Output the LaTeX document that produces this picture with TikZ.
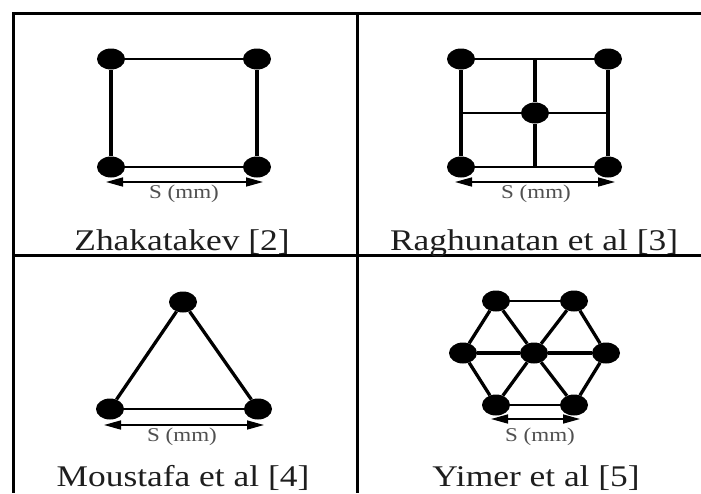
\documentclass[tikz,border=0pt]{standalone}
\usepackage{fontspec}
\setmainfont{Liberation Serif}
\newfontfamily\capfont[FakeStretch=1.18]{Liberation Serif}
\usetikzlibrary{shapes.geometric,arrows.meta}
\definecolor{captext}{HTML}{1E1E1E}
\definecolor{dimtext}{HTML}{505050}
\tikzset{
  dot/.style={ellipse, fill=black, minimum width=28pt, minimum height=21pt, inner sep=0pt},
  thickedge/.style={line width=3.3pt},
  midedge/.style={line width=2.6pt},
  thinedge/.style={line width=1.8pt},
  frame/.style={line width=3pt},
  dimline/.style={line width=1.6pt, {Triangle[length=17pt,width=9pt]}-{Triangle[length=17pt,width=9pt]}},
  dimlabel/.style={anchor=base, inner sep=0pt, text=dimtext, font=\capfont\fontsize{19.5}{19.5}\selectfont},
  caption/.style={anchor=base, inner sep=0pt, text=captext, font=\capfont\fontsize{30}{30}\selectfont}
}
\begin{document}
\begin{tikzpicture}[x=1pt,y=-1pt]
\useasboundingbox (0,0) rectangle (701,493);
\clip (0,0) rectangle (701,493);
\fill[white] (0,0) rectangle (701,493);
% frame
\coordinate (ftl) at (13,13);
\coordinate (ftr) at (701,13);
\coordinate (fbl) at (13,493);
\coordinate (fmt) at (357,13);
\coordinate (fmb) at (357,493);
\coordinate (fml) at (13,255);
\coordinate (fmr) at (701,255);
\draw[frame] (ftr) -- (ftl) -- (fbl);
\draw[frame] (fmt) -- (fmb);
\draw[frame] (fml) -- (fmr);

% panel 1
\node[dot] (a1) at (111,59) {};
\node[dot] (a2) at (257,59) {};
\node[dot] (a3) at (111,167) {};
\node[dot] (a4) at (257,167) {};
\draw[thinedge] (a1) -- (a2);
\draw[thickedge] (a1) -- (a3);
\draw[thickedge] (a2) -- (a4);
\draw[midedge] (a3) -- (a4);
\coordinate (d1l) at (106,182);
\coordinate (d1r) at (263,182);
\draw[dimline] (d1l) -- (d1r);
\node[dimlabel] (s1) at (184,198) {S (mm)};
\node[caption] (c1) at (182,250) {Zhakatakev [2]};

% panel 2
\node[dot] (b1) at (461,59) {};
\node[dot] (b2) at (608,59) {};
\node[dot] (b3) at (461,167) {};
\node[dot] (b4) at (608,167) {};
\node[dot] (b5) at (535,113) {};
\coordinate (b6) at (535,59);
\coordinate (b7) at (535,167);
\coordinate (b8) at (461,113);
\coordinate (b9) at (608,113);
\draw[thinedge] (b1) -- (b2);
\draw[thickedge] (b1) -- (b3);
\draw[thickedge] (b2) -- (b4);
\draw[midedge] (b3) -- (b4);
\draw[thickedge] (b6) -- (b5);
\draw[thickedge] (b5) -- (b7);
\draw[thinedge] (b8) -- (b5);
\draw[thinedge] (b5) -- (b9);
\coordinate (d2l) at (455,182);
\coordinate (d2r) at (615,182);
\draw[dimline] (d2l) -- (d2r);
\node[dimlabel] (s2) at (536,198) {S (mm)};
\node[caption] (c2) at (534,250) {Raghunatan et al [3]};

% panel 3
\node[dot] (t1) at (183,302) {};
\node[dot] (t2) at (110,409) {};
\node[dot] (t3) at (258,409) {};
\draw[thickedge] (t1) -- (t2);
\draw[thickedge] (t1) -- (t3);
\draw[thinedge] (t2) -- (t3);
\coordinate (d3l) at (104,425);
\coordinate (d3r) at (264,425);
\draw[dimline] (d3l) -- (d3r);
\node[dimlabel] (s3) at (182,441) {S (mm)};
\node[caption] (c3) at (183,486) {Moustafa et al [4]};

% panel 4
\node[dot] (h1) at (496,301) {};
\node[dot] (h2) at (574,301) {};
\node[dot] (h3) at (463,353) {};
\node[dot] (h4) at (534,353) {};
\node[dot] (h5) at (606,353) {};
\node[dot] (h6) at (496,405) {};
\node[dot] (h7) at (574,405) {};
\draw[thinedge] (h1) -- (h2);
\draw[thickedge] (h1) -- (h3);
\draw[thickedge] (h1) -- (h4);
\draw[thickedge] (h2) -- (h4);
\draw[thickedge] (h2) -- (h5);
\draw[thickedge] (h3) -- (h4);
\draw[thickedge] (h4) -- (h5);
\draw[thickedge] (h3) -- (h6);
\draw[thickedge] (h4) -- (h6);
\draw[thickedge] (h4) -- (h7);
\draw[thickedge] (h5) -- (h7);
\draw[midedge] (h6) -- (h7);
\coordinate (d4l) at (491,419);
\coordinate (d4r) at (580,419);
\draw[dimline] (d4l) -- (d4r);
\node[dimlabel] (s4) at (540,441) {S (mm)};
\node[caption] (c4) at (536,486) {Yimer et al [5]};
\end{tikzpicture}
\end{document}
